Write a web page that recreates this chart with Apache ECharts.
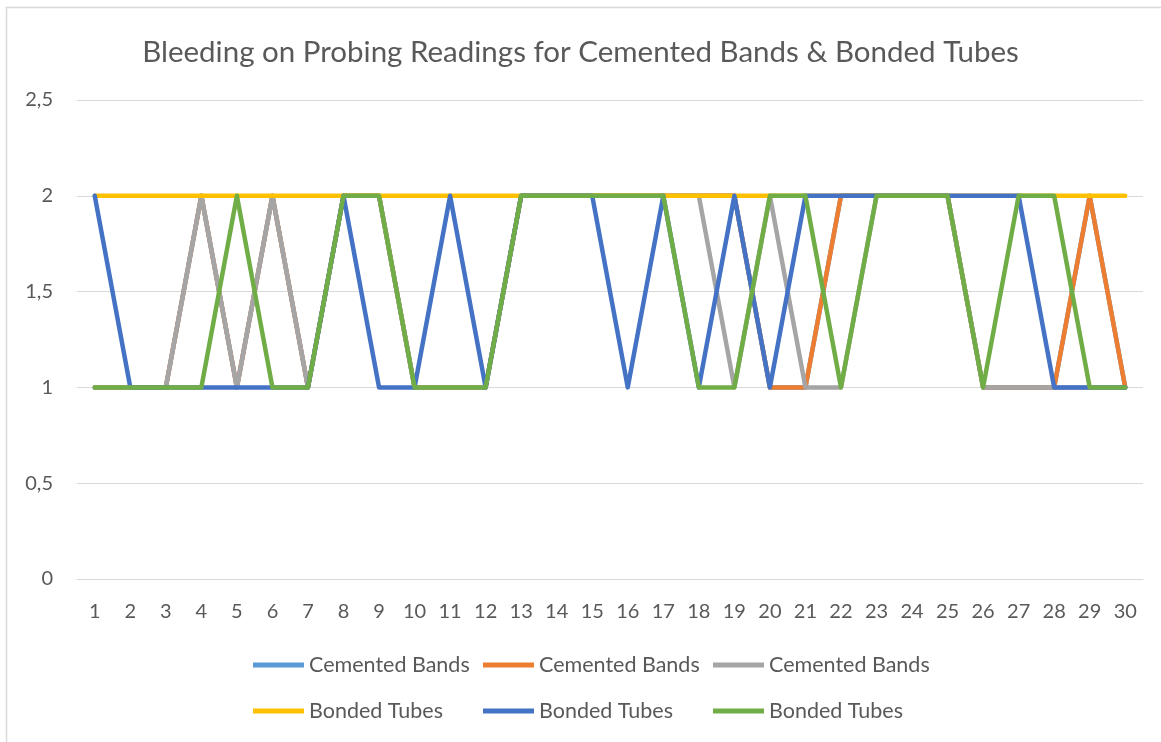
<!DOCTYPE html>
<html>
<head>
<meta charset="utf-8">
<script src="https://cdn.jsdelivr.net/npm/echarts@6/dist/echarts.min.js"></script>
<style>
html,body{margin:0;padding:0;background:#fff;}
#chart{width:1161px;height:742px;}
</style>
</head>
<body>
<div id="chart"></div>
<script>
const titleText = 'Bleeding on Probing Readings for Cemented Bands & Bonded Tubes';
const categories = ['1','2','3','4','5','6','7','8','9','10','11','12','13','14','15','16','17','18','19','20','21','22','23','24','25','26','27','28','29','30'];
const yTicks = [0, 0.5, 1, 1.5, 2, 2.5];

const cementedBands1 = [1,1,1,2,1,2,1,2,2,1,1,1,2,2,2,2,2,2,2,1,1,2,2,2,2,1,1,1,2,1];
const cementedBands2 = [1,1,1,2,1,2,1,2,2,1,1,1,2,2,2,2,2,2,2,1,1,2,2,2,2,1,1,1,2,1];
const cementedBands3 = [1,1,1,2,1,2,1,2,2,1,1,1,2,2,2,2,2,2,1,2,1,1,2,2,2,1,1,1,1,1];
const bondedTubes1   = [2,2,2,2,2,2,2,2,2,2,2,2,2,2,2,2,2,2,2,2,2,2,2,2,2,2,2,2,2,2];
const bondedTubes2   = [2,1,1,1,1,1,1,2,1,1,2,1,2,2,2,1,2,1,2,1,2,2,2,2,2,2,2,1,1,1];
const bondedTubes3   = [1,1,1,1,2,1,1,2,2,1,1,1,2,2,2,2,2,1,1,2,2,1,2,2,2,1,2,2,1,1];

const seriesDefs = [
  {id:'cb1', label:'Cemented Bands', color:'#5B9BD5', data:cementedBands1},
  {id:'cb2', label:'Cemented Bands', color:'#ED7D31', data:cementedBands2},
  {id:'cb3', label:'Cemented Bands', color:'#A5A5A5', data:cementedBands3},
  {id:'bt1', label:'Bonded Tubes',   color:'#FFC000', data:bondedTubes1},
  {id:'bt2', label:'Bonded Tubes',   color:'#4472C4', data:bondedTubes2},
  {id:'bt3', label:'Bonded Tubes',   color:'#70AD47', data:bondedTubes3}
];
const labelMap = {};
seriesDefs.forEach(s => labelMap[s.id] = s.label);

const FONT = 'Lato';
const TXT = '#595959';

const chart = echarts.init(document.getElementById('chart'), null, {renderer:'canvas'});
chart.setOption({
  animation: false,
  backgroundColor: '#ffffff',
  graphic: [{
    type: 'rect',
    shape: {x: 6.5, y: 7.5, width: 1170, height: 760},
    style: {fill: 'none', stroke: '#d9d9d9', lineWidth: 1.5},
    silent: true, z: -10
  }],
  title: {
    text: titleText,
    left: 'center',
    top: 32,
    textStyle: {fontFamily: FONT, fontSize: 29.5, fontWeight: 'normal', color: TXT}
  },
  grid: {left: 77, right: 18, top: 100, bottom: 163, containLabel: false},
  xAxis: {
    type: 'category',
    data: categories,
    boundaryGap: true,
    axisLine: {show: true, lineStyle: {color: '#d9d9d9', width: 1}},
    axisTick: {show: false},
    axisLabel: {fontFamily: FONT, fontSize: 20, color: TXT, margin: 23, interval: 0}
  },
  yAxis: {
    type: 'value',
    min: 0, max: 2.5, interval: 0.5,
    axisLine: {show: false},
    axisTick: {show: false},
    splitLine: {lineStyle: {color: '#d9d9d9', width: 1}},
    axisLabel: {fontFamily: FONT, fontSize: 20, color: TXT, margin: 24,
      formatter: v => String(v).replace('.', ',')}
  },
  legend: {
    data: seriesDefs.map(s => s.id),
    formatter: name => labelMap[name],
    left: 253, top: 647, width: 700,
    padding: 0,
    itemGap: 10,
    itemWidth: 51, itemHeight: 5,
    icon: 'rect',
    selectedMode: false,
    textStyle: {fontFamily: FONT, fontSize: 21.5, color: TXT, width: 164, lineHeight: 36}
  },
  series: seriesDefs.map(s => ({
    name: s.id,
    type: 'line',
    data: s.data,
    color: s.color,
    symbol: 'none',
    showSymbol: false,
    lineStyle: {color: s.color, width: 4.5, cap: 'round', join: 'round'},
    itemStyle: {color: s.color}
  }))
});
</script>
</body>
</html>
